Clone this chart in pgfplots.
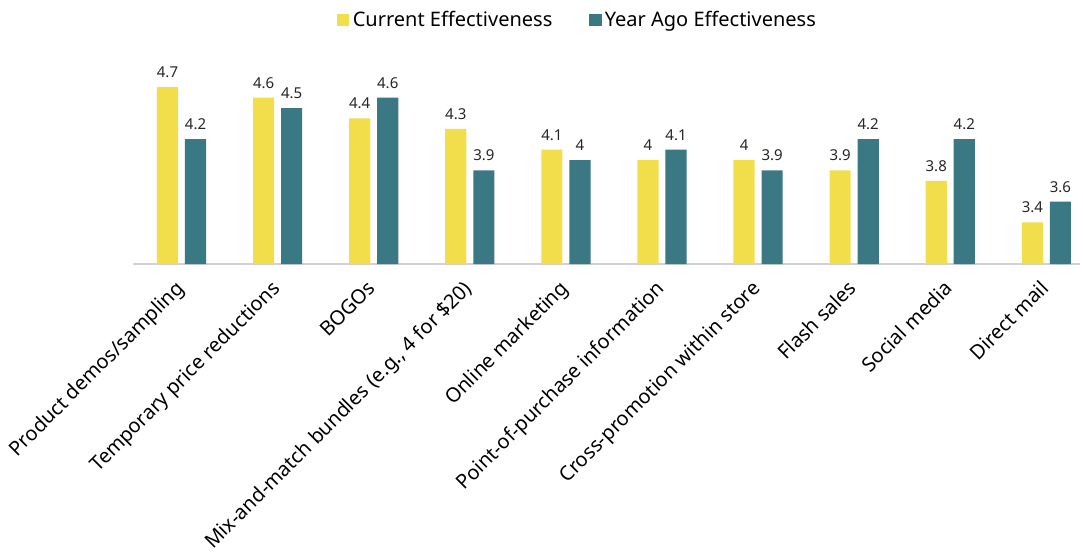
\documentclass[border=0pt]{standalone}
\usepackage{fontspec}
\setmainfont{Noto Sans}
\usepackage{pgfplots}
\pgfplotsset{compat=1.18}
\definecolor{cyel}{RGB}{242,221,74}
\definecolor{cteal}{RGB}{58,120,132}
\begin{document}
\begin{tikzpicture}[x=1pt,y=1pt]
\def\px{0.6}
\begin{axis}[
  name=ax,
  at={(0,0)}, anchor=south west,
  scale only axis,
  width=568.2pt, height=124.8pt,
  xmin=-0.505, xmax=9.35,
  ymin=3, ymax=5,
  axis x line=bottom,
  axis y line=none,
  x axis line style={draw=black!18, line width=0.8pt, -},
  xtick={0,...,9},
  major tick length=0pt,
  xticklabels={Product demos/sampling,Temporary price reductions,BOGOs,{Mix-and-match bundles (e.g., 4 for \$20)},Online marketing,Point-of-purchase information,Cross-promotion within store,Flash sales,Social media,Direct mail},
  xticklabel style={rotate=45, anchor=north east, font=\fontsize{12}{14}\selectfont, inner sep=1pt, xshift=-8.3pt, yshift=-2pt},
  ybar, bar width=0.22,
  nodes near coords,
  every node near coord/.append style={font=\fontsize{9}{10}\selectfont, /pgf/number format/assume math mode=true, yshift=2pt, text=black!85},
  legend style={draw=none, at={(0.47,1.173)}, anchor=center, legend columns=2, font=\fontsize{12}{13}\selectfont, /tikz/every even column/.append style={column sep=20pt}},
  legend image code/.code={\fill[#1] (0pt,-3.8pt) rectangle (7.5pt,3.8pt);},
  clip=false,
]
\addplot[fill=cyel, draw=none, bar shift=-0.146] coordinates {(0,4.7) (1,4.6) (2,4.4) (3,4.3) (4,4.1) (5,4) (6,4) (7,3.9) (8,3.8) (9,3.4)};
\addplot[fill=cteal, draw=none, bar shift=0.146] coordinates {(0,4.2) (1,4.5) (2,4.6) (3,3.9) (4,4) (5,4.1) (6,3.9) (7,4.2) (8,4.2) (9,3.6)};
\legend{Current Effectiveness, Year Ago Effectiveness}
\end{axis}
\pgfresetboundingbox
\path (-133*\px, 264*\px) rectangle ({(1083-133)*\px}, {-(555-264)*\px});
\end{tikzpicture}
\end{document}
